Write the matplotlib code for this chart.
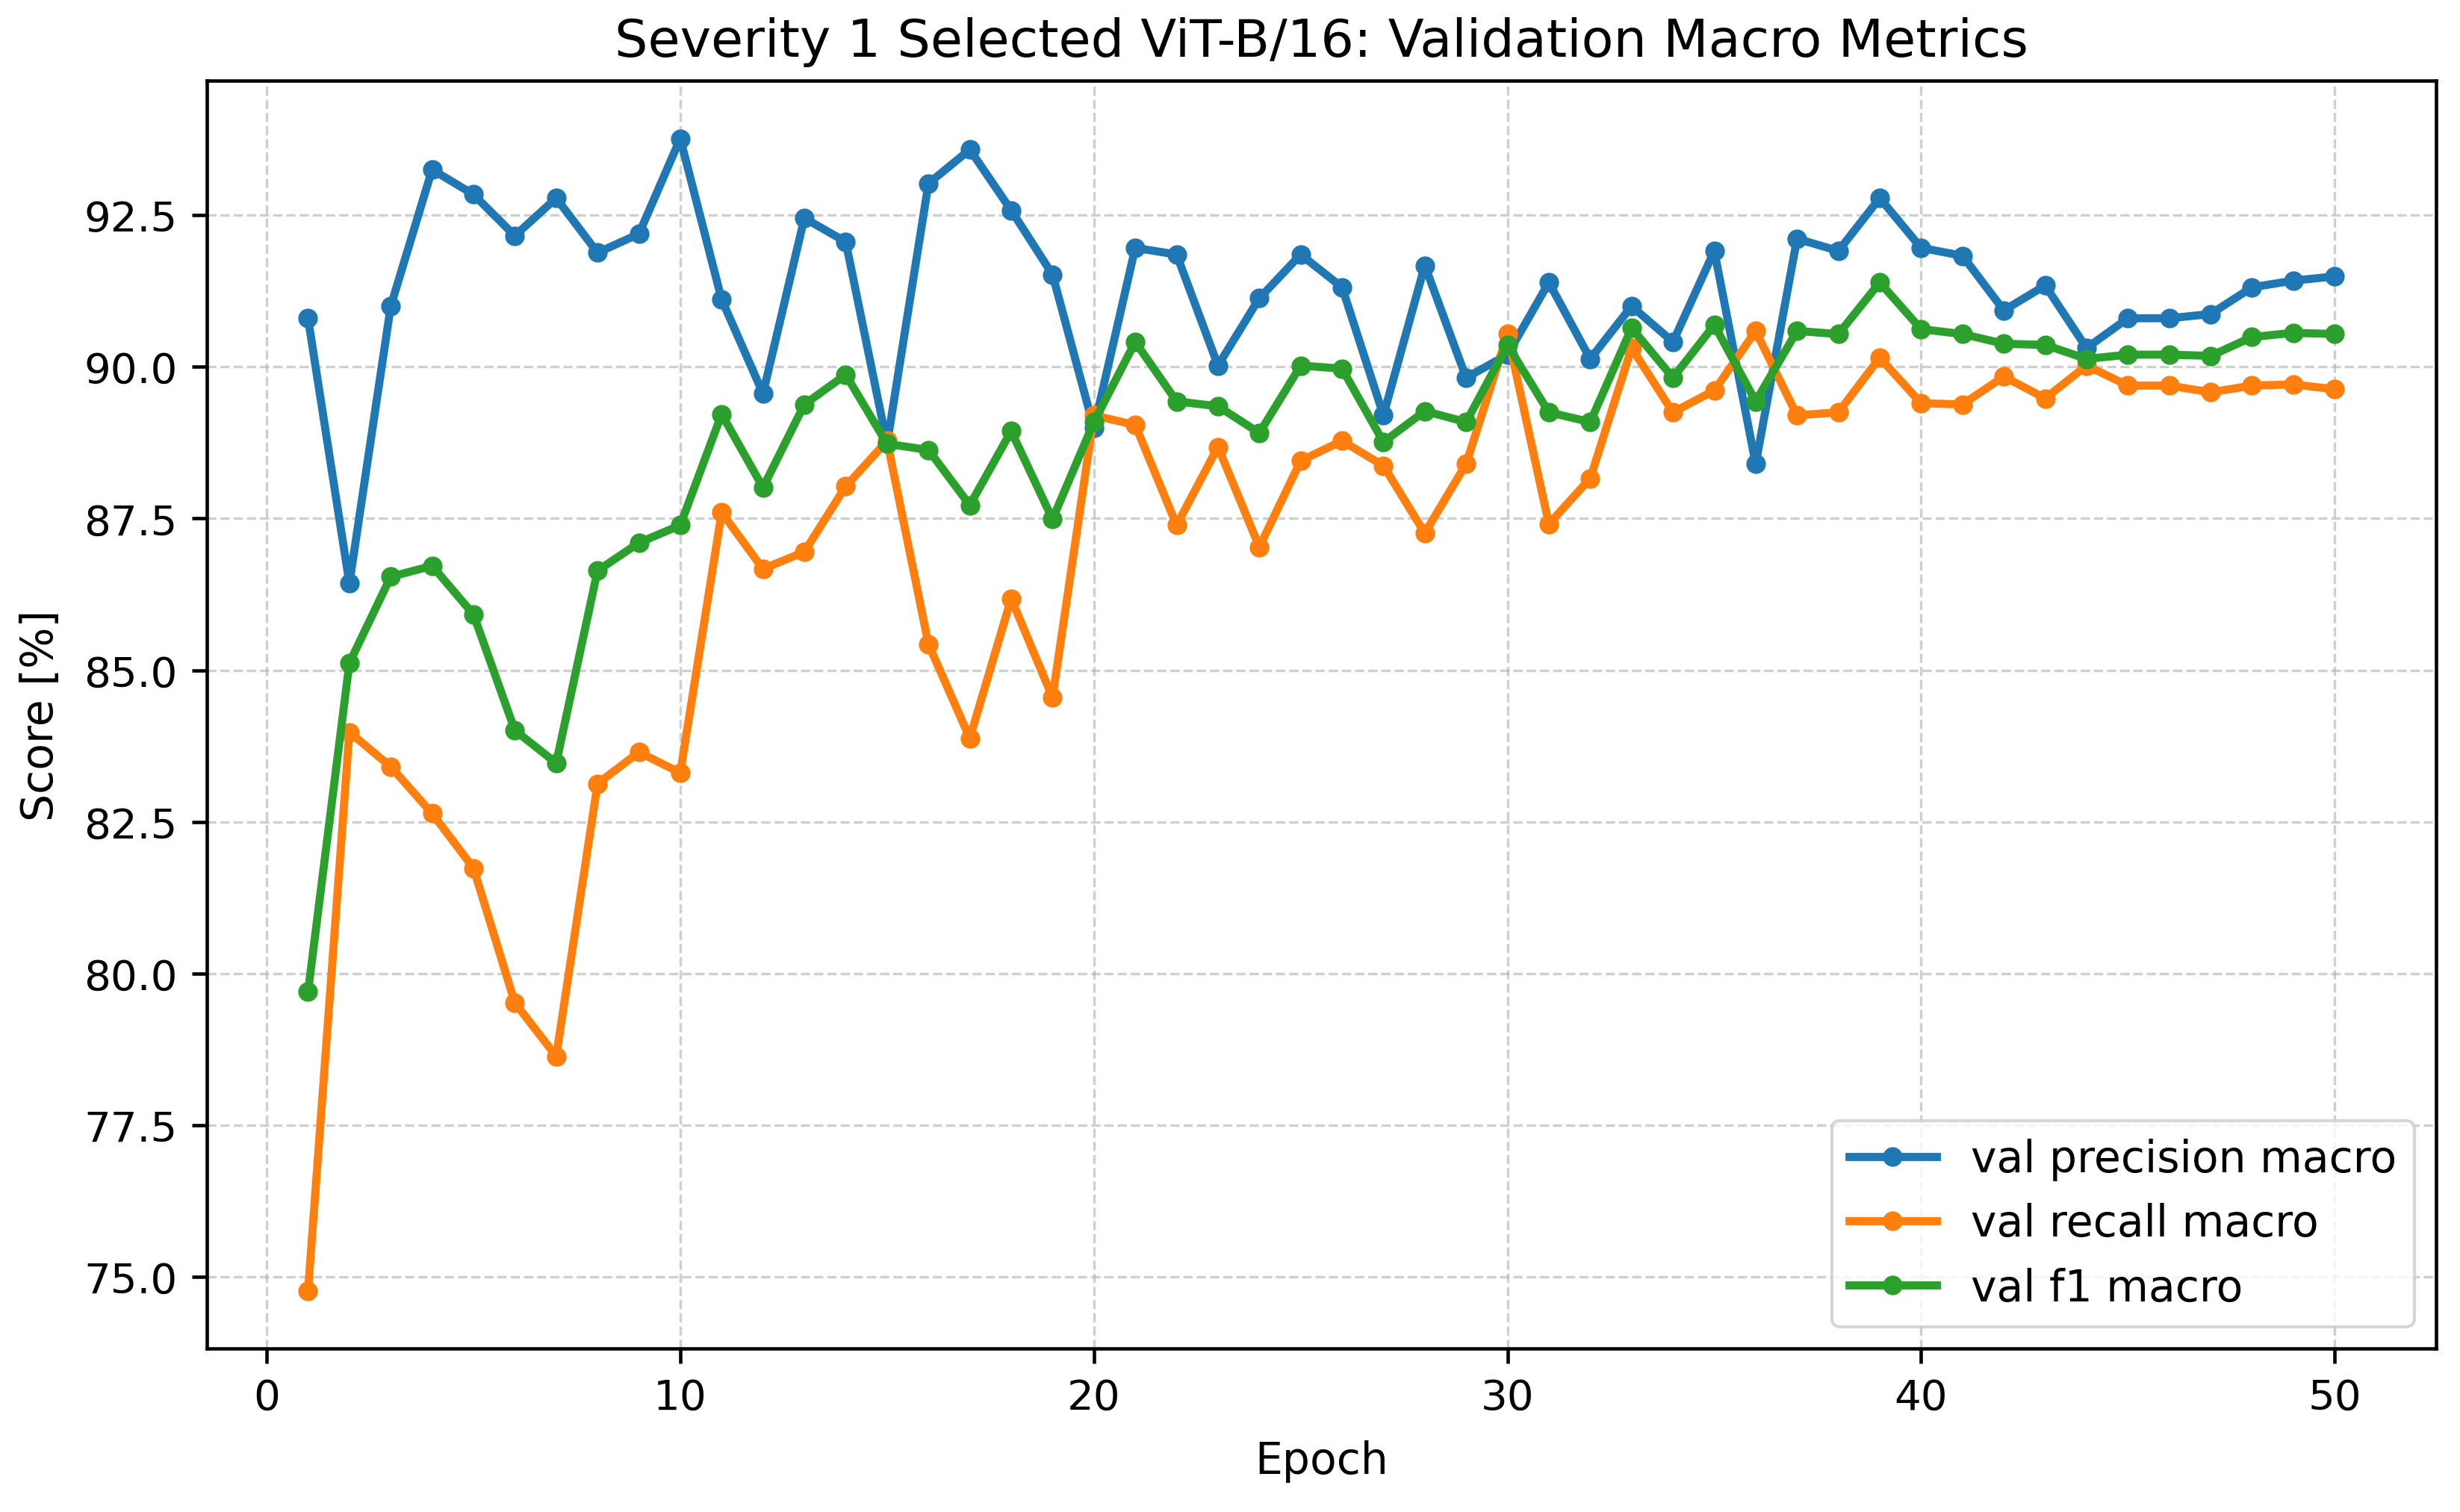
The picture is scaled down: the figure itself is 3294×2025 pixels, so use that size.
import numpy as np
import matplotlib.pyplot as plt

epochs = np.arange(1, 51)

val_precision_macro = [
    90.80, 86.43, 91.00, 93.25, 92.84, 92.16, 92.78, 91.88, 92.19, 93.76,
    91.11, 89.56, 92.45, 92.06, 88.73, 93.02, 93.58, 92.58, 91.52, 88.99,
    91.96, 91.85, 90.02, 91.13, 91.85, 91.31, 89.20, 91.67, 89.82, 90.20,
    91.39, 90.13, 91.00, 90.41, 91.91, 88.40, 92.11, 91.91, 92.78, 91.96,
    91.83, 90.93, 91.34, 90.31, 90.80, 90.80, 90.87, 91.31, 91.42, 91.49,
]
val_recall_macro = [
    74.77, 83.98, 83.41, 82.64, 81.74, 79.52, 78.64, 83.13, 83.65, 83.31,
    87.60, 86.67, 86.95, 88.03, 88.78, 85.43, 83.88, 86.18, 84.55, 89.20,
    89.04, 87.39, 88.68, 87.03, 88.45, 88.78, 88.37, 87.26, 88.40, 90.54,
    87.41, 88.16, 90.31, 89.25, 89.61, 90.59, 89.20, 89.25, 90.15, 89.40,
    89.38, 89.84, 89.48, 90.02, 89.69, 89.69, 89.58, 89.69, 89.71, 89.63,
]
val_f1_macro = [
    79.70, 85.12, 86.54, 86.72, 85.92, 84.01, 83.47, 86.64, 87.10, 87.39,
    89.22, 88.01, 89.38, 89.87, 88.73, 88.63, 87.72, 88.94, 87.49, 89.09,
    90.41, 89.43, 89.35, 88.91, 90.02, 89.97, 88.76, 89.27, 89.09, 90.36,
    89.25, 89.09, 90.64, 89.82, 90.69, 89.43, 90.59, 90.54, 91.39, 90.62,
    90.54, 90.38, 90.36, 90.13, 90.20, 90.20, 90.18, 90.49, 90.56, 90.54,
]

fig, ax = plt.subplots(figsize=(10.983, 6.753), dpi=300)

lw, ms = 2.6, 5.3
ax.plot(epochs, val_precision_macro, marker='o', markersize=ms, linewidth=lw, label='val precision macro')
ax.plot(epochs, val_recall_macro, marker='o', markersize=ms, linewidth=lw, label='val recall macro')
ax.plot(epochs, val_f1_macro, marker='o', markersize=ms, linewidth=lw, label='val f1 macro')

ax.set_title('Severity 1 Selected ViT-B/16: Validation Macro Metrics', fontsize=16.8, pad=8)
ax.set_xlabel('Epoch', fontsize=14, labelpad=7)
ax.set_ylabel('Score [%]', fontsize=14, labelpad=7)
ax.tick_params(labelsize=13.5, width=1.1, length=4.7, pad=4.7)
for s in ax.spines.values():
    s.set_linewidth(1.1)
ax.grid(True, linestyle='--', alpha=0.6)
ax.legend(loc='lower right', fontsize=14)

fig.subplots_adjust(left=0.084, right=0.990, top=0.946, bottom=0.108)
fig.savefig('out.png', dpi=300)
